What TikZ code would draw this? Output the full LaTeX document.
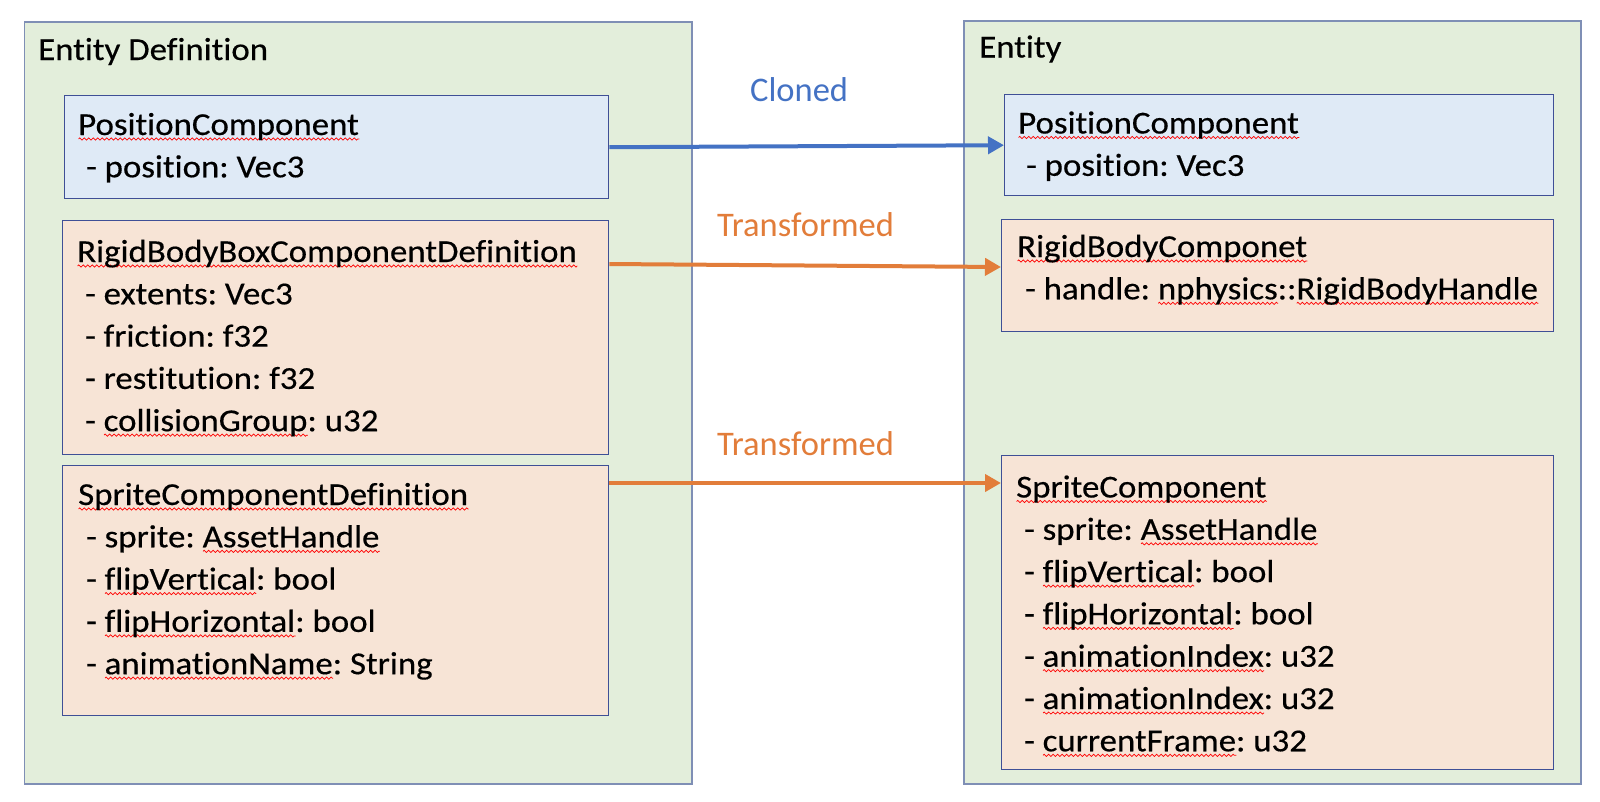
\documentclass[tikz,border=0pt]{standalone}
\usepackage{fontspec}
\setmainfont{Carlito}[Ligatures={TeX,NoCommon}]
\newfontfamily\boxfont{Carlito}[FakeStretch=1.09, FakeBold=0.4, Ligatures={TeX,NoCommon}]
\usetikzlibrary{arrows.meta,calc,decorations.pathmorphing}
\frenchspacing
\definecolor{outerfill}{HTML}{E3EEDB}
\definecolor{outerline}{HTML}{7F8FB5}
\definecolor{bluefill}{HTML}{DFEAF6}
\definecolor{orangefill}{HTML}{F7E4D6}
\definecolor{boxline}{HTML}{3F4F96}
\definecolor{cblue}{HTML}{4472C4}
\definecolor{corange}{HTML}{E27D3A}
\newsavebox\sqbox
\newlength\sqw
\newcommand\sq[1]{\sbox\sqbox{#1}\setlength\sqw{\wd\sqbox}%
  \rlap{\raisebox{-4pt}{\tikz[x=1pt,y=1pt,baseline=0pt]\draw[red,line width=0.7pt,decorate,decoration={zigzag,segment length=4.5pt,amplitude=1.1pt}] (0,0)--(\sqw,0);}}\usebox\sqbox}
\newcommand\boxlines[1]{\vtop{\baselineskip=42.3pt\lineskiplimit=-100pt #1}}
\tikzset{
  outerbox/.style={draw=outerline, fill=outerfill, line width=1.5pt, inner sep=0pt, anchor=north west},
  bluebox/.style={draw=boxline, fill=bluefill, line width=1.4pt, inner sep=0pt, anchor=north west},
  orangebox/.style={draw=boxline, fill=orangefill, line width=1.4pt, inner sep=0pt, anchor=north west},
  txt/.style={anchor=base west, inner sep=0pt, font=\boxfont\fontsize{32}{38}\selectfont\frenchspacing},
  lbl/.style={anchor=base west, inner sep=0pt, font=\fontsize{34.5}{41}\selectfont},
  conn/.style={line width=4pt, -{Triangle[length=16pt,width=17pt]}},
}
\begin{document}
\begin{tikzpicture}[x=1pt,y=-1pt]
\useasboundingbox[fill=white] (0,0) rectangle (1600,801);
% outer containers
\node[outerbox, minimum width=667.5pt, minimum height=762pt] (defs) at (23.5,21) {};
\node[outerbox, minimum width=617pt, minimum height=763pt] (ent) at (963,20) {};
\node[txt] (defsT) at (38,60) {Entity Definition};
\node[txt] (entT) at (979,57.5) {Entity};
% left components
\node[bluebox, minimum width=544pt, minimum height=103pt] (pl) at (64,95) {};
\node[orangebox, minimum width=546pt, minimum height=234pt] (rl) at (62,220) {};
\node[orangebox, minimum width=546pt, minimum height=250pt] (sl) at (62,465) {};
% right components
\node[bluebox, minimum width=549pt, minimum height=101pt] (pr) at (1004,94) {};
\node[orangebox, minimum width=552pt, minimum height=112pt] (rr) at (1001,219) {};
\node[orangebox, minimum width=552pt, minimum height=314pt] (sr) at (1001,455) {};
% texts
\node[txt] (plT) at (78,135) {\boxlines{%
  \hbox{\sq{PositionComponent}}%
  \hbox{ - position: Vec3}}};
\node[txt] (rlT) at (77,262) {\boxlines{%
  \hbox{\sq{RigidBodyBoxComponentDefinition}}%
  \hbox{ - extents: Vec3}%
  \hbox{ - friction: f32}%
  \hbox{ - restitution: f32}%
  \hbox{ - \sq{collisionGroup}: u32}}};
\node[txt] (slT) at (78,505) {\boxlines{%
  \hbox{\sq{SpriteComponentDefinition}}%
  \hbox{ - sprite: \sq{AssetHandle}}%
  \hbox{ - \sq{flipVertical}: bool}%
  \hbox{ - \sq{flipHorizontal}: bool}%
  \hbox{ - \sq{animationName}: String}}};
\node[txt] (prT) at (1018,133.5) {\boxlines{%
  \hbox{\sq{PositionComponent}}%
  \hbox{ - position: Vec3}}};
\node[txt] (rrT) at (1017,257) {\boxlines{%
  \hbox{\sq{RigidBodyComponet}}%
  \hbox{ - handle: \sq{nphysics}::\sq{RigidBodyHandle}}}};
\node[txt] (srT) at (1016,497.5) {\boxlines{%
  \hbox{\sq{SpriteComponent}}%
  \hbox{ - sprite: \sq{AssetHandle}}%
  \hbox{ - \sq{flipVertical}: bool}%
  \hbox{ - \sq{flipHorizontal}: bool}%
  \hbox{ - \sq{animationIndex}: u32}%
  \hbox{ - \sq{animationIndex}: u32}%
  \hbox{ - \sq{currentFrame}: u32}}};
% connectors
\draw[conn, cblue] (pl.east) -- (pr.west);
\draw[conn, corange] ($(rl.north east)+(0,44)$) -- ($(rr.north west)+(0,48)$);
\draw[conn, corange] ($(sl.north east)+(0,18)$) -- ($(sr.north west)+(0,28)$);
% labels
\node[lbl, text=cblue] (cl) at (750,101.7) {Cloned};
\node[lbl, text=corange] (tr1) at (717,236) {Transformed};
\node[lbl, text=corange] (tr2) at (717,455) {Transformed};
\end{tikzpicture}
\end{document}
